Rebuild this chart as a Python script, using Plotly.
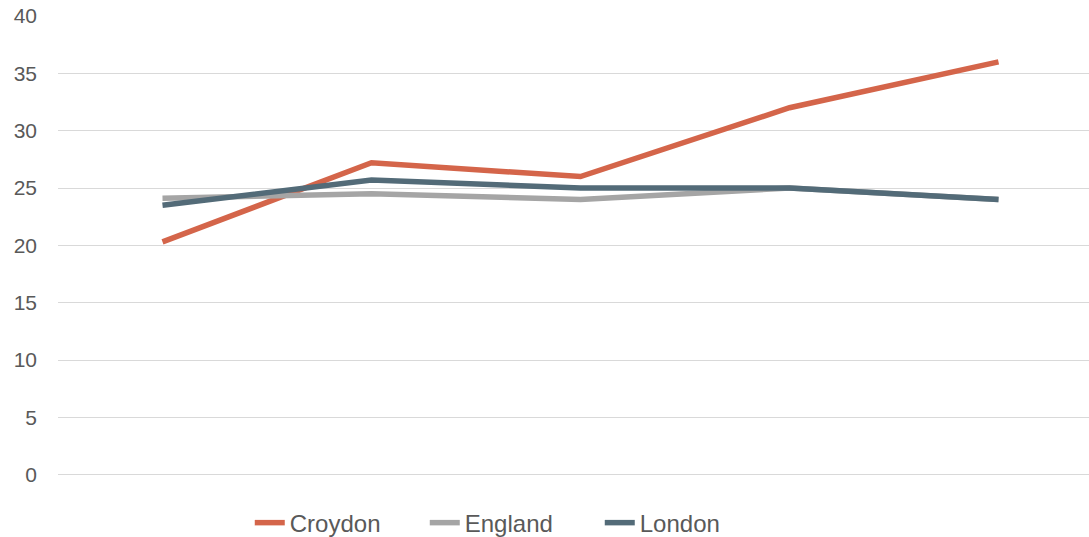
import plotly.graph_objects as go

categories = ["P1", "P2", "P3", "P4", "P5"]
croydon = [20.3, 27.2, 26.0, 32.0, 36.0]
england = [24.1, 24.5, 24.0, 25.0, 24.0]
london = [23.5, 25.7, 25.0, 25.0, 24.0]
y_ticks = [0, 5, 10, 15, 20, 25, 30, 35, 40]

series = [
    ("Croydon", croydon, "#D4654A"),
    ("England", england, "#A5A5A5"),
    ("London", london, "#536B78"),
]

fig = go.Figure()
for name, vals, color in series:
    fig.add_trace(go.Scatter(
        x=categories, y=vals, name=name, mode="lines",
        line=dict(color=color, width=5.5),
    ))

fig.update_layout(
    width=1089, height=537,
    margin=dict(l=58, r=0, t=16, b=60, autoexpand=False),
    paper_bgcolor="white", plot_bgcolor="white",
    font=dict(family="Liberation Sans, Arial, sans-serif", color="#595959"),
    showlegend=True,
    legend=dict(
        orientation="h", x=0.186, xanchor="left",
        yref="container", y=0.026, yanchor="middle",
        font=dict(size=24, color="#595959"),
        itemwidth=30, traceorder="normal",
        entrywidth=130, entrywidthmode="pixels",
    ),
    xaxis=dict(
        type="category", range=[-0.5, 4.433],
        showticklabels=False, showgrid=False, zeroline=False, showline=False,
    ),
    yaxis=dict(
        range=[-0.2, 40], tickvals=y_ticks, ticktext=[str(v) for v in y_ticks],
        showgrid=True, gridcolor="#D9D9D9", gridwidth=1.3,
        zeroline=False, showline=False,
        tickfont=dict(size=21, color="#595959"),
        ticks="", ticklabelstandoff=20,
    ),
)

fig.write_html("out.html")
